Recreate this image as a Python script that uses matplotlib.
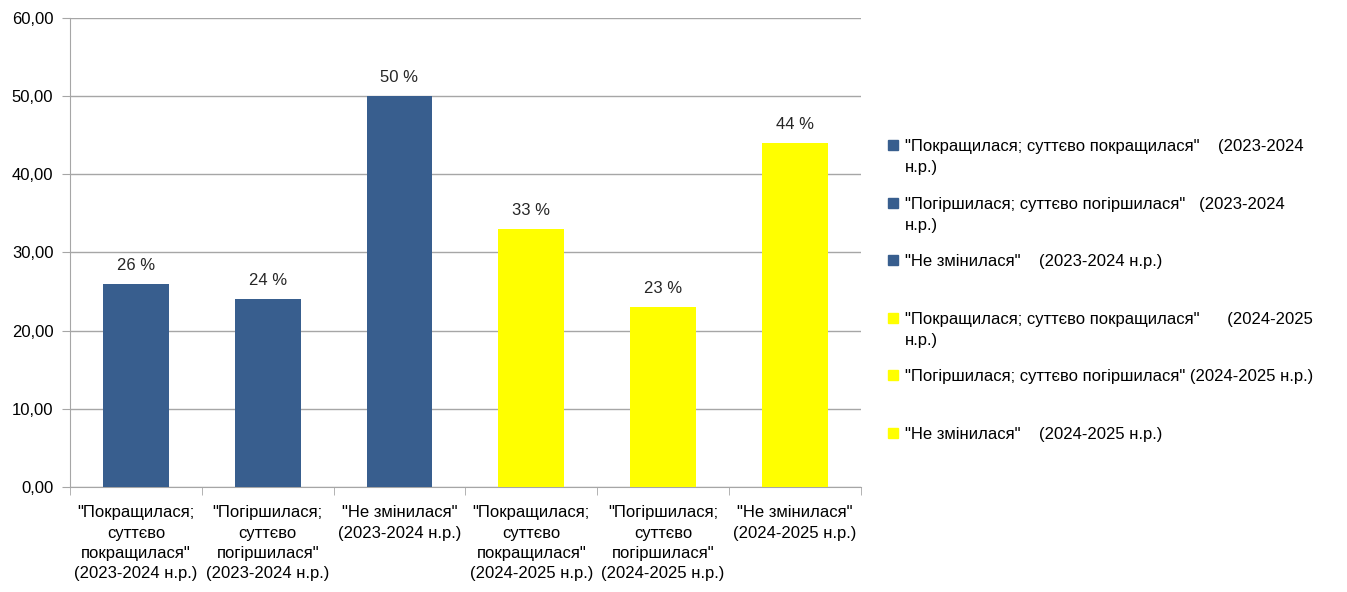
import matplotlib
matplotlib.use("Agg")
import matplotlib.pyplot as plt
from matplotlib.patches import Rectangle

plt.rcParams['font.family'] = ['Liberation Sans', 'DejaVu Sans']

# дані
categories = [
    '"Покращилася;\nсуттєво\nпокращилася"\n(2023-2024 н.р.)',
    '"Погіршилася;\nсуттєво\nпогіршилася"\n(2023-2024 н.р.)',
    '"Не змінилася"\n(2023-2024 н.р.)',
    '"Покращилася;\nсуттєво\nпокращилася"\n(2024-2025 н.р.)',
    '"Погіршилася;\nсуттєво\nпогіршилася"\n(2024-2025 н.р.)',
    '"Не змінилася"\n(2024-2025 н.р.)',
]
values = [26, 24, 50, 33, 23, 44]
value_labels = ['26 %', '24 %', '50 %', '33 %', '23 %', '44 %']
legend_labels = [
    '"Покращилася; суттєво покращилася"    (2023-2024\nн.р.)',
    '"Погіршилася; суттєво погіршилася"   (2023-2024\nн.р.)',
    '"Не змінилася"    (2023-2024 н.р.)',
    '"Покращилася; суттєво покращилася"      (2024-2025\nн.р.)',
    '"Погіршилася; суттєво погіршилася" (2024-2025 н.р.)',
    '"Не змінилася"    (2024-2025 н.р.)',
]
yticks = [0, 10, 20, 30, 40, 50, 60]

blue = '#385E8E'
yellow = '#FFFF00'
colors = [blue, blue, blue, yellow, yellow, yellow]
grid_col = '#A6A6A6'
fs = 12

fig = plt.figure(figsize=(13.47, 5.92), dpi=100)
ax = fig.add_axes([0.052, 0.177, 0.587, 0.793])

pos = [i + 0.5 for i in range(len(values))]
ax.bar(pos, values, width=0.5, color=colors, zorder=3)
for x, v, t in zip(pos, values, value_labels):
    ax.annotate(t, (x, v), xytext=(0, 8), textcoords='offset points',
                ha='center', va='bottom', fontsize=fs, color='#262626')

ax.set_xlim(0, len(values))
ax.set_ylim(0, 60)
ax.set_yticks(yticks)
ax.set_yticklabels([f'{t:.2f}'.replace('.', ',') for t in yticks], fontsize=fs)
ax.yaxis.grid(True, color=grid_col, linewidth=1, zorder=0)

ax.set_xticks(pos)
ax.set_xticklabels(categories, fontsize=fs, linespacing=1.45)
ax.tick_params(axis='x', which='major', length=0, pad=13)
ax.set_xticks(range(len(values) + 1), minor=True)
ax.tick_params(axis='x', which='minor', length=6, color=grid_col)
ax.tick_params(axis='y', length=6, color=grid_col, pad=6)

for s in ['top', 'right']:
    ax.spines[s].set_visible(False)
for s in ['left', 'bottom']:
    ax.spines[s].set_color(grid_col)

# легенда
y0 = 145
step = 57.6
for i, (lab, c) in enumerate(zip(legend_labels, colors)):
    y = y0 + i * step
    fig.patches.append(Rectangle((888 / 1347, 1 - (y + 5) / 592), 10 / 1347, 10 / 592,
                                 transform=fig.transFigure, color=c))
    fig.text(905 / 1347, 1 - (y - 6) / 592, lab, fontsize=fs, va='top', ha='left',
             linespacing=1.5, color='#000000')

fig.savefig('out.png', dpi=100)
